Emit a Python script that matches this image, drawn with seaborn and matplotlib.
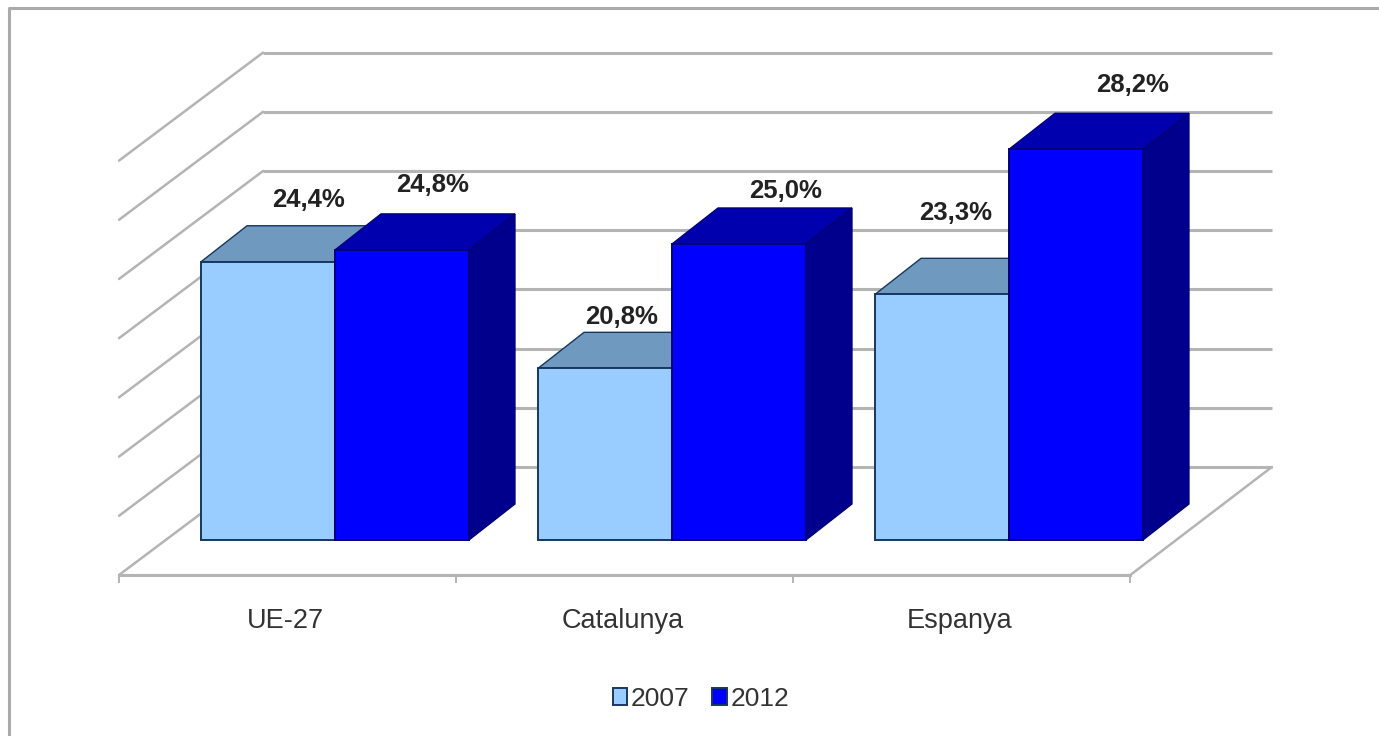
import numpy as np
import pandas as pd
import matplotlib
matplotlib.use("Agg")
import matplotlib.pyplot as plt
from matplotlib.lines import Line2D
from matplotlib.patches import Polygon
import seaborn as sns

# values
categories = ["UE-27", "Catalunya", "Espanya"]
years = ["2007", "2012"]
values_2007 = [24.4, 20.8, 23.3]
values_2012 = [24.8, 25.0, 28.2]
label_2007 = ["24,4%", "20,8%", "23,3%"]
label_2012 = ["24,8%", "25,0%", "28,2%"]
grid_levels = [15, 17, 19, 21, 23, 25, 27, 29]

# label offsets from the top centre of each bar, in pixels
offset_2007 = [(40, 62), (17, 51), (14, 81)]
offset_2012 = [(31, 65), (47, 53), (57, 64)]

# scale of the picture
px_x = 337.0   # pixels per category
px_y = 29.6    # pixels per percent
base = 15
depth_x, depth_y = 46 / px_x, 36 / px_y   # depth of a bar
wall_x, wall_y = 144 / px_x, 108 / px_y   # depth of the floor

sns.set_theme(style="white")
plt.rcParams["font.family"] = ["Liberation Sans", "DejaVu Sans"]

df = pd.DataFrame({
    "region": categories * 2,
    "year": [years[0]] * 3 + [years[1]] * 3,
    "share": values_2007 + values_2012,
})

fig = plt.figure(figsize=(13.79, 7.36), dpi=100)
ax = fig.add_axes([0, (736 - 540) / 736, 1, 540 / 736])

sns.barplot(data=df, x="region", y="share", hue="year", hue_order=years,
            palette=["#99CCFF", "#0000FF"], width=0.795, gap=0, saturation=1,
            edgecolor="#17375E", linewidth=1.4, ax=ax)

ax.set_xlim(-335 / px_x, (1379 - 335) / px_x)
ax.set_ylim(base, base + 540 / px_y)
ax.set_xlabel("")
ax.set_ylabel("")
ax.set_yticks([])

# floor front edge is the x axis
for side in ["left", "right", "top"]:
    ax.spines[side].set_visible(False)
ax.spines["bottom"].set_position(("outward", 35 * 0.72))
ax.spines["bottom"].set_bounds(-0.64, 2.36)
ax.spines["bottom"].set_color("#b4b4b4")
ax.spines["bottom"].set_linewidth(2.2)
ax.set_xticks(np.arange(4) - 0.64, [""] * 4)
ax.set_xticks(np.arange(3) - 0.146, categories, minor=True)
ax.tick_params(axis="x", which="major", length=6, width=1.4, color="#b4b4b4",
               bottom=True)
ax.tick_params(axis="x", which="minor", length=0, pad=24, labelsize=19.5,
               labelcolor="#333333")

# back wall and left wall lines
back_left = -0.2136
back_right = 2.78
for level in grid_levels:
    y = level + wall_y - 35 / px_y
    ax.plot([back_left, back_right], [y, y], color="#b4b4b4", lw=2.2,
            zorder=1, clip_on=False, solid_capstyle="butt")
    ax.plot([back_left - wall_x, back_left], [y - wall_y, y], color="#b4b4b4",
            lw=1.8, zorder=1, clip_on=False)
floor_y = base - 35 / px_y
ax.plot([2.36, back_right], [floor_y, floor_y + wall_y], color="#b4b4b4", lw=1.8,
        zorder=1, clip_on=False)

# turn the flat bars into boxes
styles = [("#7099C0", "#5F83A8", 3, "#17375E"), ("#0000AE", "#00008C", 4, "#00007A")]
for cont, (top_col, side_col, z, edge), labels, offsets in zip(
        ax.containers, styles, [label_2007, label_2012], [offset_2007, offset_2012]):
    for bar, text, (ox, oy) in zip(cont, labels, offsets):
        top = bar.get_height()
        left = bar.get_x()
        right = left + bar.get_width()
        bar.set_y(base)
        bar.set_height(top - base)
        bar.set_zorder(5)
        bar.set_clip_on(False)
        bar.set_edgecolor(edge)
        ax.add_patch(Polygon([(left, top), (right, top),
                              (right + depth_x, top + depth_y),
                              (left + depth_x, top + depth_y)],
                             facecolor=top_col, edgecolor=edge,
                             lw=1.0, zorder=z, clip_on=False))
        ax.add_patch(Polygon([(right, base), (right + depth_x, base + depth_y),
                              (right + depth_x, top + depth_y), (right, top)],
                             facecolor=side_col, edgecolor="#00007A",
                             lw=1.0, zorder=z, clip_on=False))
        ax.annotate(text, (left + bar.get_width() / 2, top),
                    xytext=(ox * 0.72, oy * 0.72), textcoords="offset points",
                    ha="center", va="center", fontsize=18.5, fontweight="bold",
                    color="#222222", zorder=6, annotation_clip=False)

sns.move_legend(ax, "center", bbox_to_anchor=(701 / 1379, 1 - 699 / 736),
                bbox_transform=fig.transFigure, ncols=2, frameon=False, title=None,
                fontsize=19, handlelength=0.55, handleheight=0.6,
                handletextpad=0.15, columnspacing=0.85)
for txt in ax.get_legend().get_texts():
    txt.set_color("#333333")

# outer frame of the chart area, open on the right and at the bottom
fig.add_artist(Line2D([9 / 1379, 9 / 1379, 1], [0, 1 - 8 / 736, 1 - 8 / 736],
                      color="#aaaaaa", lw=2.2))

fig.savefig("out.png", dpi=100)
